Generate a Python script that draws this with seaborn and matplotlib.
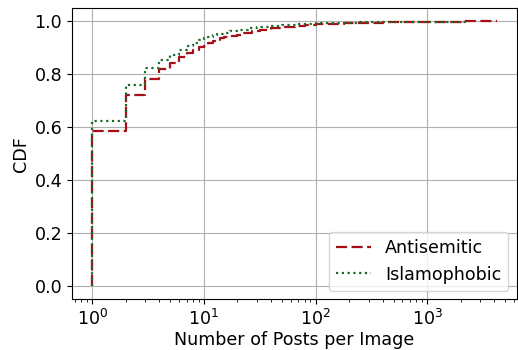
import numpy as np
import pandas as pd
import matplotlib
matplotlib.use("Agg")
import matplotlib.pyplot as plt
import seaborn as sns

# Distinct "posts per image" values and CDF levels
anti_x = [1, 2, 3, 4, 5, 6, 7, 8, 9, 10, 11, 12, 13, 14, 15, 17, 20, 23, 27, 32,
          40, 50, 65, 80, 100, 130, 180, 250, 400, 700, 1200, 2000, 4200]
anti_cdf = [0.587, 0.720, 0.782, 0.818, 0.843, 0.866, 0.879, 0.892, 0.904, 0.908,
            0.917, 0.924, 0.930, 0.935, 0.940, 0.945, 0.950, 0.955, 0.962, 0.967,
            0.974, 0.978, 0.983, 0.986, 0.988, 0.990, 0.992, 0.994, 0.996, 0.998,
            0.999, 0.9995, 1.0]

isla_x = [1, 2, 3, 4, 5, 6, 7, 8, 9, 10, 11, 12, 13, 15, 17, 20, 25, 30, 40, 50,
          70, 100, 150, 250, 500, 1000, 2200]
isla_cdf = [0.625, 0.761, 0.822, 0.854, 0.873, 0.892, 0.907, 0.919, 0.930, 0.936,
            0.942, 0.947, 0.952, 0.957, 0.962, 0.967, 0.973, 0.978, 0.983, 0.986,
            0.990, 0.993, 0.995, 0.997, 0.998, 0.999, 1.0]

labels = ["Antisemitic", "Islamophobic"]


def to_frame(xs, cdf, name):
    w = np.diff(np.r_[0.0, cdf])
    return pd.DataFrame({"posts": xs, "w": w, "group": name})


df = pd.concat([to_frame(anti_x, anti_cdf, labels[0]),
                to_frame(isla_x, isla_cdf, labels[1])], ignore_index=True)

plt.rcParams.update(matplotlib.rcParamsDefault)
plt.rcParams["font.family"] = ["DejaVu Sans"]
FS = 12.6

fig, ax = plt.subplots(figsize=(5.18, 3.5), dpi=100)
colors = {"Antisemitic": "#a50f15", "Islamophobic": "#1a6b2a"}
styles = {"Antisemitic": (0, (5, 2)), "Islamophobic": (0, (1, 1.6))}
for name in labels:
    sub = df[df["group"] == name]
    sns.ecdfplot(data=sub, x="posts", weights="w", log_scale=True, ax=ax,
                 color=colors[name], linestyle=styles[name], linewidth=1.6,
                 label=name)

ax.grid(True, color="#b0b0b0", linewidth=0.8)
ax.set_axisbelow(True)
ax.set_ylim(-0.05, 1.05)
ax.set_yticks([0.0, 0.2, 0.4, 0.6, 0.8, 1.0])
ax.set_xlabel("Number of Posts per Image", fontsize=FS, labelpad=1.5)
ax.set_ylabel("CDF", fontsize=FS, labelpad=3)
ax.tick_params(labelsize=FS)
ax.legend(loc="lower right", fontsize=FS, frameon=True)

fig.subplots_adjust(left=0.139, right=0.998, top=0.977, bottom=0.145)
fig.savefig("out.png", dpi=100)
